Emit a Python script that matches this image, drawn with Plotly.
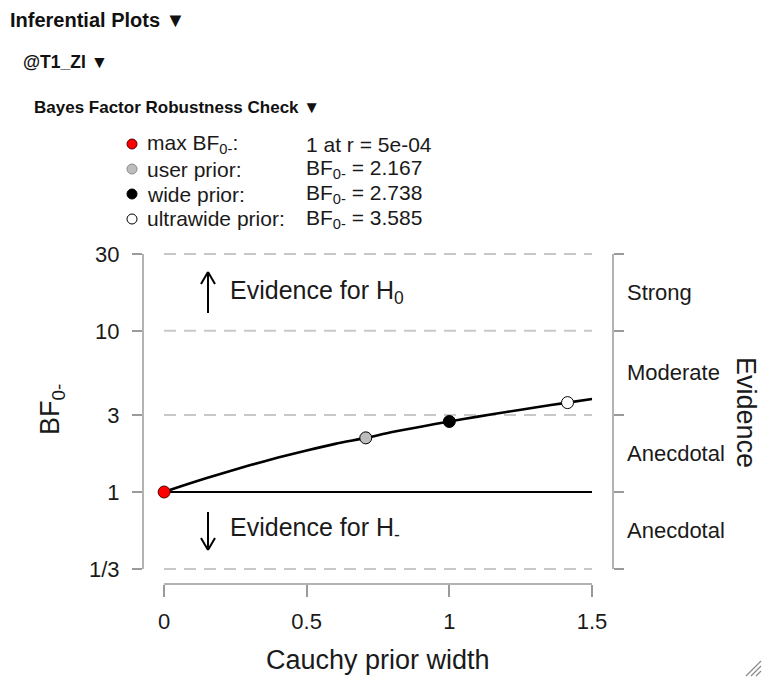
import math
import plotly.graph_objects as go

# ---------------- data ----------------
r_grid = [0, 0.1, 0.2, 0.3, 0.4, 0.5, 0.6, 0.7071, 0.8, 0.9, 1.0, 1.1, 1.2, 1.3, 1.4142, 1.5]
bf_curve = [1.0, 1.144, 1.299, 1.463, 1.635, 1.810, 1.989, 2.167, 2.353, 2.541, 2.738,
            2.934, 3.135, 3.344, 3.585, 3.775]
max_r = [0.0005]
max_bf = [1.0]
prior_names = ["user prior:", "wide prior:", "ultrawide prior:"]
prior_r = [0.7071, 1.0, 1.4142]
prior_bf = [2.167, 2.738, 3.585]
prior_colors = ["#bdbdbd", "#000000", "#ffffff"]
y_tickvals = [1 / 3, 1, 3, 10, 30]
y_ticktext = ["1/3", "1", "3", "10", "30"]
x_tickvals = [0, 0.5, 1, 1.5]
x_ticktext = ["0", "0.5", "1", "1.5"]
evidence_labels = ["Anecdotal", "Anecdotal", "Moderate", "Strong"]

# ---------------- layout geometry ----------------
W, H = 764, 678
L, R, T, B = 143, 613, 240, 584
PX_PER_X = (592 - 164) / 1.5
PX_PER_DEC = (569 - 254) / math.log10(90)
x_range = [-(164 - L) / PX_PER_X, 1.5 + (R - 592) / PX_PER_X]
y_range = [-(B - 492) / PX_PER_DEC, (492 - T) / PX_PER_DEC]

FONT = "Liberation Sans, Arial, Helvetica, sans-serif"
TXT = "#1a1a1a"
AX = "#9a9a9a"


def px2x(px):
    return (px - L) / (R - L)


def py2y(py):
    return (B - py) / (B - T)


def yp(v):
    return (math.log10(v) - y_range[0]) / (y_range[1] - y_range[0])


fig = go.Figure()

# dashed reference lines at evidence thresholds (except 1)
for v in y_tickvals:
    if v == 1:
        continue
    fig.add_trace(go.Scatter(x=[x_tickvals[0], x_tickvals[-1]], y=[v, v], mode="lines",
                             line=dict(color="#c8c8c8", width=2, dash="12px,8px"),
                             hoverinfo="skip", showlegend=False))

# line at BF = 1
fig.add_trace(go.Scatter(x=[x_tickvals[0], x_tickvals[-1]], y=[1, 1], mode="lines",
                         line=dict(color="black", width=2), showlegend=False, hoverinfo="skip"))

# robustness curve
fig.add_trace(go.Scatter(x=r_grid, y=bf_curve, mode="lines",
                         line=dict(color="black", width=2.6, shape="spline", smoothing=0.8),
                         showlegend=False))

# prior points
fig.add_trace(go.Scatter(x=prior_r, y=prior_bf, mode="markers",
                         marker=dict(size=12, color=prior_colors, line=dict(color="black", width=1)),
                         showlegend=False))
fig.add_trace(go.Scatter(x=max_r, y=max_bf, mode="markers",
                         marker=dict(size=12, color="#ff0000", line=dict(color="#550000", width=1)),
                         showlegend=False))

# invisible trace for right axis
fig.add_trace(go.Scatter(x=[x_tickvals[0]], y=[1], yaxis="y2", mode="markers",
                         marker=dict(opacity=0), showlegend=False, hoverinfo="skip"))

shapes = []
# axis lines
shapes.append(dict(type="line", xref="x", yref="paper", x0=x_tickvals[0], x1=x_tickvals[-1], y0=0, y1=0,
                   line=dict(color=AX, width=1.5)))
shapes.append(dict(type="line", xref="paper", yref="paper", x0=0, x1=0, y0=yp(y_tickvals[0]),
                   y1=yp(y_tickvals[-1]), line=dict(color=AX, width=1.5)))
shapes.append(dict(type="line", xref="paper", yref="paper", x0=1, x1=1, y0=yp(y_tickvals[0]),
                   y1=yp(y_tickvals[-1]), line=dict(color=AX, width=1.5)))


# arrows
def arrow(xpx, y_from, y_to):
    shapes.append(dict(type="line", xref="paper", yref="paper", x0=px2x(xpx), x1=px2x(xpx),
                       y0=py2y(y_from), y1=py2y(y_to), line=dict(color="black", width=2)))
    d = 1 if y_to < y_from else -1
    for s in (-1, 1):
        shapes.append(dict(type="line", xref="paper", yref="paper", x0=px2x(xpx), x1=px2x(xpx + s * 7),
                           y0=py2y(y_to), y1=py2y(y_to + d * 12), line=dict(color="black", width=2)))


arrow(208, 313, 272)
arrow(208, 512, 550)

# resize grip
for k in range(3):
    shapes.append(dict(type="line", xref="paper", yref="paper", x0=px2x(746 + 5 * k), y0=py2y(676),
                       x1=px2x(761), y1=py2y(661 + 5 * k), line=dict(color="#8a8a8a", width=1.3)))

# legend markers
leg_rows = [144, 169, 194, 219]
leg_cols = ["#ff0000"] + prior_colors
leg_line = ["#550000", "#8a8a8a", "#000000", "#000000"]
for yrow, c, lc in zip(leg_rows, leg_cols, leg_line):
    shapes.append(dict(type="circle", xref="paper", yref="paper", xsizemode="pixel", ysizemode="pixel",
                       xanchor=px2x(132), yanchor=py2y(yrow), x0=-5, x1=5, y0=-5, y1=5,
                       fillcolor=c, line=dict(color=lc, width=1)))

ann = []


def txt(text, xpx, ypx, size, anchor="left", angle=0, bold=False, color=TXT):
    ann.append(dict(text=("<b>%s</b>" % text) if bold else text, xref="paper", yref="paper",
                    x=px2x(xpx), y=py2y(ypx), xanchor=anchor, yanchor="middle", showarrow=False,
                    textangle=angle, font=dict(family=FONT, size=size, color=color)))


# headers
txt("Inferential Plots \u25BC", 8, 20, 20, bold=True, color="#111")
txt("@T1_ZI \u25BC", 21, 62, 17.5, bold=True, color="#111")
txt("Bayes Factor Robustness Check \u25BC", 32, 107, 17, bold=True, color="#111")

# legend texts
leg_labels = ["max BF<sub>0-</sub>:"] + prior_names
leg_values = ["%g at r = %.0e" % (max_bf[0], max_r[0])] + ["BF<sub>0-</sub> = %.3f" % v for v in prior_bf]
leg_values[0] = leg_values[0].replace("e-4", "e-04")
for yrow, lab, val in zip(leg_rows, leg_labels, leg_values):
    txt(lab, 145, yrow, 21)
    txt(val, 304, yrow, 21)

# evidence texts
txt("Evidence for H<sub>0</sub>", 228, 292, 25)
txt("Evidence for H<sub>-</sub>", 228, 529, 25)

# right-side evidence category labels at log midpoints
for i, lab in enumerate(evidence_labels):
    mid = math.sqrt(y_tickvals[i] * y_tickvals[i + 1])
    ann.append(dict(text=lab, xref="paper", yref="paper", x=1, xshift=12, y=yp(mid), xanchor="left",
                    yanchor="middle", showarrow=False, font=dict(family=FONT, size=22, color=TXT)))

# axis titles
txt("Evidence", 746, 412, 27, anchor="center", angle=90)
txt("BF<sub>0-</sub>", 52, 410, 27, anchor="center", angle=-90)
txt("Cauchy prior width", 378, 660, 27, anchor="center")

fig.update_layout(
    width=W, height=H, margin=dict(l=L, r=W - R, t=T, b=H - B, pad=0),
    paper_bgcolor="white", plot_bgcolor="white", showlegend=False,
    font=dict(family=FONT, color=TXT),
    xaxis=dict(range=x_range, tickvals=x_tickvals, ticktext=x_ticktext, ticks="outside", ticklen=12,
               tickwidth=1.5, tickcolor=AX, showgrid=False, zeroline=False, showline=False,
               tickfont=dict(size=22, color=TXT), ticklabelstandoff=6, fixedrange=True),
    yaxis=dict(type="log", range=y_range, tickvals=y_tickvals, ticktext=y_ticktext, ticks="outside",
               ticklen=10, tickwidth=1.5, tickcolor=AX, showgrid=False, zeroline=False, showline=False,
               tickfont=dict(size=22, color=TXT), ticklabelstandoff=8, fixedrange=True),
    yaxis2=dict(type="log", range=y_range, overlaying="y", side="right", tickvals=y_tickvals,
                ticks="outside", ticklen=10, tickwidth=1.5, tickcolor=AX, showticklabels=False,
                showgrid=False, zeroline=False, showline=False, fixedrange=True),
    shapes=shapes, annotations=ann,
)

fig.write_html("out.html")
